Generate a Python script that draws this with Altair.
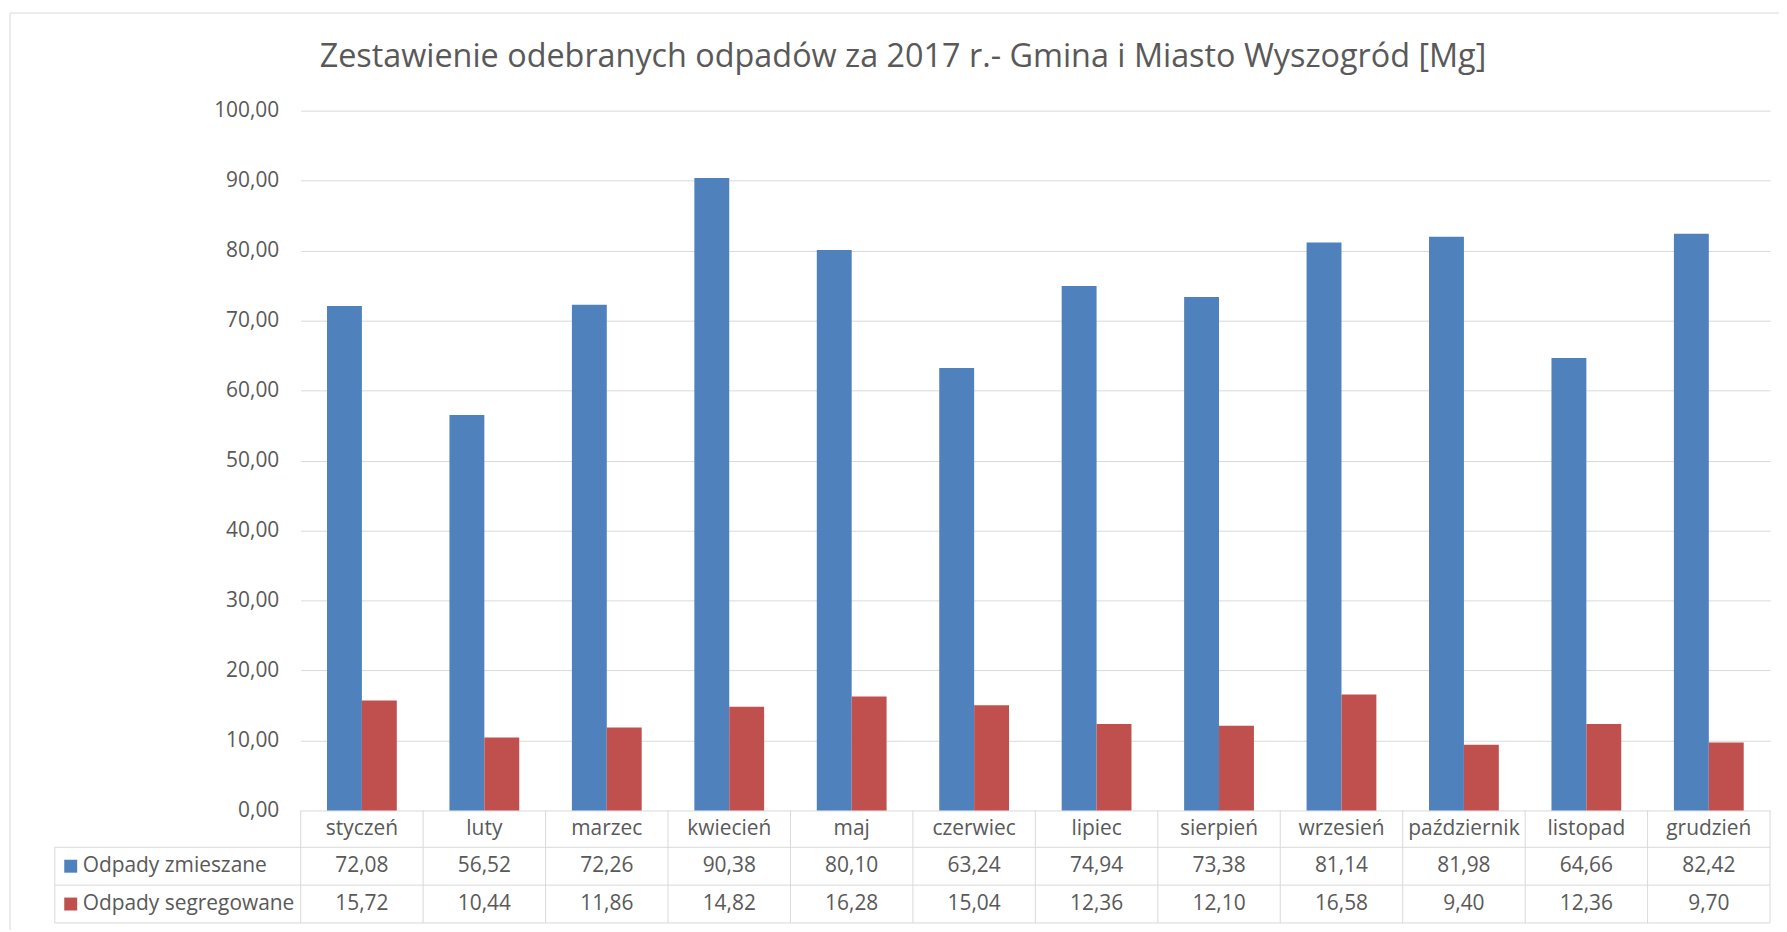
import altair as alt
import pandas as pd

title_text = "Zestawienie odebranych odpadów za 2017 r.- Gmina i Miasto Wyszogród [Mg]"
months = ["styczeń", "luty", "marzec", "kwiecień", "maj", "czerwiec", "lipiec",
          "sierpień", "wrzesień", "październik", "listopad", "grudzień"]
series = ["Odpady zmieszane", "Odpady segregowane"]
zmieszane = [72.08, 56.52, 72.26, 90.38, 80.10, 63.24, 74.94, 73.38, 81.14, 81.98, 64.66, 82.42]
segregowane = [15.72, 10.44, 11.86, 14.82, 16.28, 15.04, 12.36, 12.10, 16.58, 9.40, 12.36, 9.70]
y_ticks = [0, 10, 20, 30, 40, 50, 60, 70, 80, 90, 100]
colors = ["#4F81BD", "#C0504D"]

rows = []
for s, vals in zip(series, [zmieszane, segregowane]):
    for m, v in zip(months, vals):
        rows.append({"month": m, "series": s, "value": v})
df = pd.DataFrame(rows)
months_df = pd.DataFrame({"month": months})
series_df = pd.DataFrame({"series": series})

W, H = 1476, 703
FONT = "Open Sans"
TXT = "#595959"
GRID = "#d9d9d9"
FS = 21
LEFT = -247
ROW_LINES = [740, 778, 816]
ROW_TEXT = [759, 797]

xs = alt.Scale(type="band", domain=months, paddingInner=0.43, paddingOuter=0.215)
color = alt.Color("series:N", scale=alt.Scale(domain=series, range=colors), legend=None)
fmt = "replace(format(datum.value, '.2f'), '.', ',')"

base = alt.Chart(df)

bars = base.mark_bar().encode(
    x=alt.X("month:N", scale=xs, sort=months, axis=None),
    xOffset=alt.XOffset("series:N", sort=series,
                        scale=alt.Scale(domain=series, paddingInner=0, paddingOuter=0)),
    y=alt.Y("value:Q", scale=alt.Scale(domain=[0, 100], nice=False),
            axis=alt.Axis(values=y_ticks, labelExpr=fmt, grid=True, gridColor=GRID,
                          gridWidth=1, domain=False, ticks=False, labelPadding=22,
                          labelFontSize=FS, labelFont=FONT, labelColor=TXT, title=None)),
    color=color,
)

cat_text = alt.Chart(months_df).mark_text(font=FONT, fontSize=FS, color=TXT, baseline="middle").encode(
    x=alt.X("month:N", scale=xs, sort=months, axis=None),
    y=alt.value(721.5),
    text="month:N",
)

layers = [bars, cat_text]

for s, ty in zip(series, ROW_TEXT):
    vt = base.transform_filter(alt.datum.series == s).transform_calculate(
        label="replace(format(datum.value, '.2f'), '.', ',')"
    ).mark_text(font=FONT, fontSize=FS, color=TXT, baseline="middle").encode(
        x=alt.X("month:N", scale=xs, sort=months, axis=None),
        y=alt.value(ty),
        text="label:N",
    )
    sq = alt.Chart(series_df).transform_filter(alt.datum.series == s).mark_square(
        size=169, opacity=1, filled=True
    ).encode(x=alt.value(-231), y=alt.value(ty), color=color)
    lab = alt.Chart(series_df).transform_filter(alt.datum.series == s).mark_text(
        font=FONT, fontSize=FS, color=TXT, align="left", baseline="middle"
    ).encode(x=alt.value(-219), y=alt.value(ty), text="series:N")
    layers += [vt, sq, lab]

one = alt.Data(values=[{}])

vlines = alt.Chart(months_df).mark_rule(color=GRID, strokeWidth=1).encode(
    x=alt.X("month:N", sort=months,
            scale=alt.Scale(type="band", domain=months, paddingInner=0, paddingOuter=0),
            bandPosition=0, axis=None),
    y=alt.value(H), y2=alt.value(ROW_LINES[-1]),
)
right_line = alt.Chart(one).mark_rule(color=GRID, strokeWidth=1).encode(
    x=alt.value(W), y=alt.value(H), y2=alt.value(ROW_LINES[-1]))
left_line = alt.Chart(one).mark_rule(color=GRID, strokeWidth=1).encode(
    x=alt.value(LEFT), y=alt.value(ROW_LINES[0]), y2=alt.value(ROW_LINES[-1]))
hlines = [
    alt.Chart(one).mark_rule(color=GRID, strokeWidth=1).encode(
        x=alt.value(LEFT), x2=alt.value(W), y=alt.value(yy))
    for yy in ROW_LINES
]
border = alt.Chart(one).mark_rect(fillOpacity=0, stroke=GRID, strokeWidth=1).encode(
    x=alt.value(-292), x2=alt.value(W + 40), y=alt.value(-98), y2=alt.value(H + 200))
title = alt.Chart(alt.Data(values=[{"t": title_text}])).mark_text(
    font=FONT, fontSize=32.5, color=TXT, align="center", baseline="alphabetic"
).encode(x=alt.value(605), y=alt.value(-44), text="t:N")

layers += [vlines, right_line, left_line] + hlines + [border, title]

chart = alt.layer(*layers).resolve_scale(x="independent").properties(
    width=W, height=H,
    autosize=alt.AutoSizeParams(type="none"),
    padding={"left": 294, "top": 101, "right": 9, "bottom": 118},
).configure_view(strokeWidth=0)

chart.save("out.html", embed_options={"renderer": "svg", "actions": False})
